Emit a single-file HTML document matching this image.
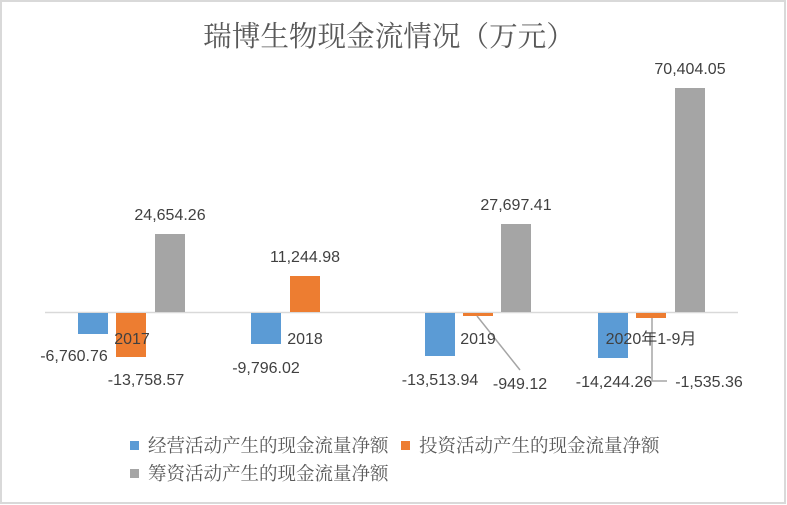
<!DOCTYPE html>
<html><head><meta charset="utf-8"><style>
html,body{margin:0;padding:0;background:#fff;}
svg{display:block;}
.t{font-family:"Liberation Sans","Noto Sans CJK SC",sans-serif;font-size:16px;fill:#404040;}
.s{font-family:"Liberation Serif","Noto Serif CJK SC",serif;fill:#595959;}
</style></head><body>
<svg width="787" height="505" viewBox="0 0 787 505">
<rect x="1" y="1" width="784" height="502" fill="#fff" stroke="#d9d9d9" stroke-width="2"/>
<text class="s" x="389" y="46" font-size="28.6" text-anchor="middle">瑞博生物现金流情况（万元）</text>
<line x1="45" y1="312.5" x2="738" y2="312.5" stroke="#d9d9d9" stroke-width="1.5"/>
<rect x="78" y="313" width="30" height="21" fill="#5b9bd5"/>
<rect x="116" y="313" width="30" height="44" fill="#ed7d31"/>
<rect x="155" y="234" width="30" height="78" fill="#a5a5a5"/>
<rect x="251" y="313" width="30" height="31" fill="#5b9bd5"/>
<rect x="290" y="276" width="30" height="36" fill="#ed7d31"/>
<rect x="425" y="313" width="30" height="43" fill="#5b9bd5"/>
<rect x="463" y="313" width="30" height="3" fill="#ed7d31"/>
<rect x="501" y="224" width="30" height="88" fill="#a5a5a5"/>
<rect x="598" y="313" width="30" height="45" fill="#5b9bd5"/>
<rect x="636" y="313" width="30" height="5" fill="#ed7d31"/>
<rect x="675" y="88" width="30" height="224" fill="#a5a5a5"/>
<polyline points="477,316 520,370" fill="none" stroke="#a5a5a5" stroke-width="1.5"/>
<polyline points="652,318 652,381 667,381" fill="none" stroke="#a5a5a5" stroke-width="1.5"/>
<text class="t" x="132" y="344" text-anchor="middle">2017</text>
<text class="t" x="305" y="344" text-anchor="middle">2018</text>
<text class="t" x="478" y="344" text-anchor="middle">2019</text>
<text class="t" x="651" y="344" text-anchor="middle">2020年1-9月</text>
<text class="t" x="170" y="220" text-anchor="middle">24,654.26</text>
<text class="t" x="305" y="262" text-anchor="middle">11,244.98</text>
<text class="t" x="516" y="210" text-anchor="middle">27,697.41</text>
<text class="t" x="690" y="74" text-anchor="middle">70,404.05</text>
<text class="t" x="74" y="361" text-anchor="middle">-6,760.76</text>
<text class="t" x="146" y="385" text-anchor="middle">-13,758.57</text>
<text class="t" x="266" y="373" text-anchor="middle">-9,796.02</text>
<text class="t" x="440" y="385" text-anchor="middle">-13,513.94</text>
<text class="t" x="520" y="389" text-anchor="middle">-949.12</text>
<text class="t" x="614" y="387" text-anchor="middle">-14,244.26</text>
<text class="t" x="709" y="387" text-anchor="middle">-1,535.36</text>
<rect x="130" y="441" width="9" height="9" fill="#5b9bd5"/>
<text class="s" x="148" y="452" font-size="18.5">经营活动产生的现金流量净额</text>
<rect x="401" y="441" width="9" height="9" fill="#ed7d31"/>
<text class="s" x="419" y="452" font-size="18.5">投资活动产生的现金流量净额</text>
<rect x="130" y="469" width="9" height="9" fill="#a5a5a5"/>
<text class="s" x="148" y="480" font-size="18.5">筹资活动产生的现金流量净额</text>
</svg>
</body></html>
